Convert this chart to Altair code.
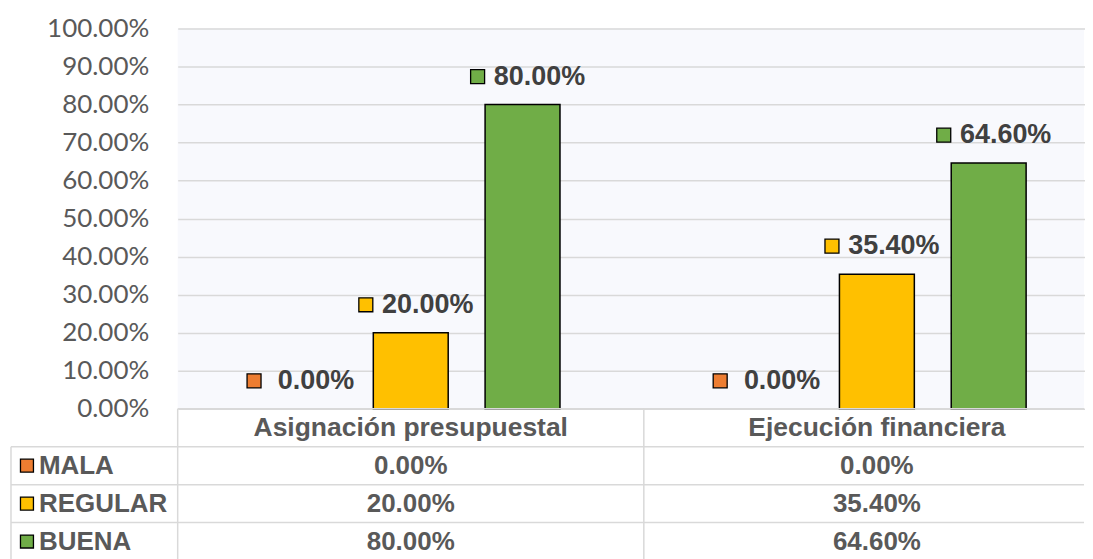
import altair as alt
import pandas as pd

# ---- data ----
categorias = ["Asignación presupuestal", "Ejecución financiera"]
series = ["MALA", "REGULAR", "BUENA"]
mala = [0.0, 0.0]
regular = [0.20, 0.354]
buena = [0.80, 0.646]
colores = ["#ED7D31", "#FFC000", "#70AD47"]
ticks_y = [0.0, 0.1, 0.2, 0.3, 0.4, 0.5, 0.6, 0.7, 0.8, 0.9, 1.0]
fila_encabezado = "encabezado"

rows = []
for s, vals in zip(series, [mala, regular, buena]):
    for c, v in zip(categorias, vals):
        rows.append({"categoria": c, "serie": s, "fila": s, "valor": v})
df = pd.DataFrame(rows)
df_cats = pd.DataFrame({"categoria": categorias, "fila": [fila_encabezado] * len(categorias)})
df_filas = pd.DataFrame({"fila": [fila_encabezado] + series, "serie": [None] + series})

# ---- layout ----
W = 908
H = 381
TH = 152
ROWS_RANGE = 152
X_RANGE = 934
GRID = "#D9D9D9"
TXT = "#595959"
BOLD_FONT = "Liberation Sans"

x_scale = alt.Scale(domain=categorias, range=[0, X_RANGE], paddingInner=0, paddingOuter=0)
xo_scale = alt.Scale(domain=series, paddingInner=0.33, paddingOuter=0.75)
color_scale = alt.Scale(domain=series, range=colores)
y_t = alt.Scale(domain=[fila_encabezado] + series, range=[0, ROWS_RANGE], paddingInner=0, paddingOuter=0)

sq_path = "M-7.43,-5L-5.43,-5L-5.43,-3L-7.43,-3Z"

base = alt.Chart(df).encode(
    x=alt.X("categoria:N", scale=x_scale, axis=None, sort=categorias),
    xOffset=alt.XOffset("serie:N", scale=xo_scale, sort=series),
    y=alt.Y(
        "valor:Q",
        scale=alt.Scale(domain=[0, 1], nice=False),
        axis=alt.Axis(
            values=ticks_y, format=".2%", domain=False, ticks=False, labelPadding=29,
            labelFont="Lato", labelFontSize=26, labelColor=TXT,
            grid=True, gridColor=GRID, gridWidth=1.5, title=None,
        ),
    ),
)

bars = base.transform_filter("datum.valor > 0").mark_bar(stroke="black", strokeWidth=1.5).encode(
    fill=alt.Fill("serie:N", scale=color_scale, legend=None)
)
squares = base.mark_point(shape=sq_path, size=196, filled=True, stroke="black", strokeWidth=1.3, opacity=1).encode(
    fill=alt.Fill("serie:N", scale=color_scale, legend=None)
)
labels = base.mark_text(
    dx=17, dy=-28, align="center", baseline="middle", font=BOLD_FONT, fontWeight="bold",
    fontSize=27, color="#404040"
).encode(text=alt.Text("valor:Q", format=".2%"))

top = alt.layer(bars, squares, labels).properties(
    width=W, height=H, view=alt.ViewBackground(fill="#F8F9FD", stroke=None)
)

# ---- table ----
yT = alt.Y("fila:N", scale=y_t, axis=None, bandPosition=0)
yC = alt.Y("fila:N", scale=y_t, axis=None)
xC = alt.X("categoria:N", scale=x_scale, axis=None, sort=categorias)

h_header = alt.Chart(df_filas).transform_filter(
    alt.datum.fila == fila_encabezado
).mark_rule(color=GRID, strokeWidth=1.5).encode(y=yT, x=alt.value(0), x2=alt.value(W))
h_rows = alt.Chart(df_filas).transform_filter(
    alt.datum.fila != fila_encabezado
).mark_rule(color=GRID, strokeWidth=1.5).encode(y=yT, x=alt.value(-167), x2=alt.value(W))
v_cols = alt.Chart(df_cats).mark_rule(color=GRID, strokeWidth=1.5).encode(
    x=alt.X("categoria:N", scale=x_scale, axis=None, sort=categorias, bandPosition=0),
    y=alt.value(0), y2=alt.value(TH),
)
v_left = alt.Chart(df_filas).transform_filter(
    alt.datum.fila == series[0]
).mark_rule(color=GRID, strokeWidth=1.5).encode(x=alt.value(-167), y=yT, y2=alt.value(TH))

head_txt = alt.Chart(df_cats).mark_text(
    font=BOLD_FONT, fontWeight="bold", fontSize=26.5, color=TXT, baseline="middle"
).encode(x=xC, y=yC, text="categoria:N")
val_txt = alt.Chart(df).mark_text(
    font=BOLD_FONT, fontWeight="bold", fontSize=26, color=TXT, baseline="middle"
).encode(x=xC, y=yC, text=alt.Text("valor:Q", format=".2%"))

row_sq = alt.Chart(df_filas).transform_filter(
    alt.datum.fila != fila_encabezado
).mark_point(shape="square", size=169, filled=True, stroke="black", strokeWidth=1.3, opacity=1).encode(
    x=alt.value(-151), y=yC, fill=alt.Fill("serie:N", scale=color_scale, legend=None)
)
row_txt = alt.Chart(df_filas).transform_filter(
    alt.datum.fila != fila_encabezado
).mark_text(
    font=BOLD_FONT, fontWeight="bold", fontSize=26, color=TXT, align="left", baseline="middle"
).encode(x=alt.value(-139), y=yC, text="fila:N")

table = alt.layer(h_header, h_rows, v_cols, v_left, head_txt, val_txt, row_sq, row_txt).properties(
    width=W, height=TH
)

chart = alt.vconcat(top, table, spacing=0, bounds="flush").properties(
    padding={"left": 2, "top": 7, "right": 0, "bottom": 0}
).configure_view(stroke=None)

chart.save("out.html", embed_options={"renderer": "svg", "actions": False})
